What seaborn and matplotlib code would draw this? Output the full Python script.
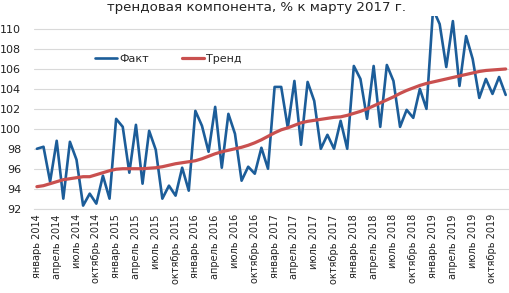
import numpy as np
import pandas as pd
import matplotlib
matplotlib.use('Agg')
import matplotlib.pyplot as plt
import seaborn as sns

# ---- данные (помесячно, январь 2014 - декабрь 2019) ----
fact = [98.0, 98.2, 94.7, 98.8, 93.0, 98.7, 96.9, 92.3, 93.5, 92.5, 95.3, 93.0,
        101.0, 100.2, 95.6, 100.4, 94.5, 99.8, 97.9, 93.0, 94.3, 93.3, 96.1, 93.8,
        101.8, 100.3, 97.7, 102.2, 96.1, 101.5, 99.5, 94.8, 96.2, 95.5, 98.1, 96.0,
        104.2, 104.2, 100.1, 104.8, 98.4, 104.7, 102.8, 98.0, 99.4, 98.0, 100.8, 98.0,
        106.3, 105.0, 101.0, 106.3, 100.2, 106.4, 104.8, 100.2, 101.9, 101.1, 104.0, 102.0,
        112.0, 110.5, 106.2, 110.8, 104.3, 109.3, 107.0, 103.1, 105.0, 103.5, 105.2, 103.4]

trend = [94.2, 94.3, 94.5, 94.7, 94.9, 95.0, 95.1, 95.2, 95.2, 95.4, 95.6, 95.8,
         95.95, 96.0, 96.0, 96.0, 96.0, 96.05, 96.1, 96.2, 96.35, 96.5, 96.6, 96.7,
         96.8, 97.0, 97.25, 97.5, 97.7, 97.85, 98.0, 98.15, 98.35, 98.6, 98.9, 99.25,
         99.6, 99.9, 100.1, 100.35, 100.6, 100.75, 100.85, 100.95, 101.05, 101.15, 101.2, 101.35,
         101.55, 101.75, 102.0, 102.3, 102.6, 102.9, 103.2, 103.55, 103.85, 104.1, 104.35, 104.55,
         104.7, 104.85, 105.0, 105.15, 105.3, 105.45, 105.6, 105.75, 105.85, 105.9, 105.95, 106.0]

tick_labels = ['январь 2014', 'апрель 2014', 'июль 2014', 'октябрь 2014',
               'январь 2015', 'апрель 2015', 'июль 2015', 'октябрь 2015',
               'январь 2016', 'апрель 2016', 'июль 2016', 'октябрь 2016',
               'январь 2017', 'апрель 2017', 'июль 2017', 'октябрь 2017',
               'январь 2018', 'апрель 2018', 'июль 2018', 'октябрь 2018',
               'январь 2019', 'апрель 2019', 'июль 2019', 'октябрь 2019']

title = 'трендовая компонента, % к марту 2017 г.'

# ---- оформление ----
sns.set_style('white')
plt.rcParams['font.family'] = ['DejaVu Sans']
plt.rcParams['font.size'] = 8

df = pd.DataFrame({'month': np.arange(len(fact)), 'Факт': fact, 'Тренд': trend})

fig = plt.figure(figsize=(5.09, 2.93), dpi=100)
ax = fig.add_axes([0.066, 0.288, 0.934, 0.657])

ax.set_axisbelow(True)
ax.grid(axis='y', color='#d9d9d9', linewidth=0.8)

sns.lineplot(data=df, x='month', y='Факт', ax=ax, color='#1c5d99',
             linewidth=1.9, label='Факт')
sns.lineplot(data=df, x='month', y='Тренд', ax=ax, color='#c9504f',
             linewidth=2.3, label='Тренд')

ax.set_xlim(-0.5, len(fact) - 0.5)
ax.set_ylim(92, 111.3)
ax.set_yticks(np.arange(92, 111, 2))
ax.set_xticks(np.arange(0, len(fact), 3))
ax.set_xticklabels(tick_labels, rotation=90)
ax.set_xlabel('')
ax.set_ylabel('')
ax.tick_params(axis='y', length=0, pad=9, labelsize=8, colors='#222222')
ax.tick_params(axis='x', length=0, pad=4, labelsize=7.0, colors='#222222')

for side in ['top', 'right', 'left']:
    ax.spines[side].set_visible(False)
ax.spines['bottom'].set_color('#d9d9d9')
ax.spines['bottom'].set_linewidth(0.8)

ax.legend(ncol=2, frameon=False, loc='center left',
          bbox_to_anchor=(95 / 509, 1 - 59 / 293), bbox_transform=fig.transFigure,
          borderaxespad=0, borderpad=0, handlelength=2.0, handletextpad=0.15,
          columnspacing=3.0, fontsize=8)

fig.text(257 / 509, 1 - 8 / 293, title, ha='center', va='center',
         fontsize=9.6, color='#222222')

fig.savefig('out.png', dpi=100)
plt.close(fig)
